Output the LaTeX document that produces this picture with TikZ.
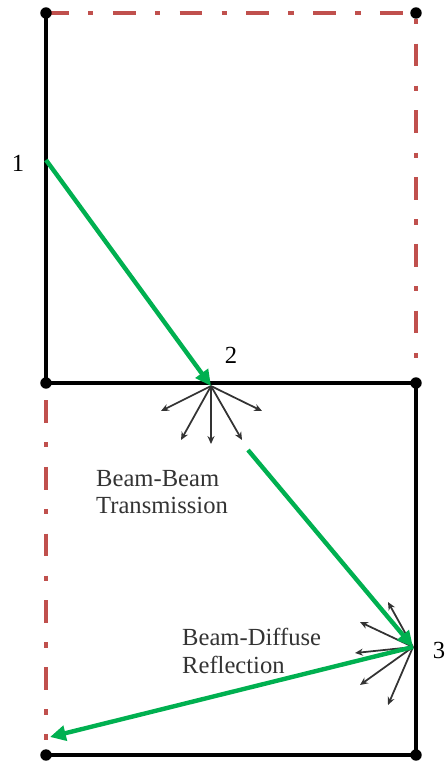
\documentclass[tikz,border=0pt]{standalone}
\usepackage{fontspec}
\setmainfont{Liberation Serif}
\usetikzlibrary{arrows.meta}
\definecolor{bdGreen}{HTML}{00B050}
\definecolor{bdRed}{HTML}{C0504D}
\definecolor{bdInk}{HTML}{333333}
\tikzset{
  bd wall/.style={draw=black, line width=2.7pt},
  bd open/.style={draw=bdRed, line width=2.5pt, dash pattern=on 13pt off 11pt on 3pt off 11pt},
  bd beam/.style={draw=bdGreen, line width=2.5pt, -{Triangle[length=9pt,width=8.5pt]}},
  bd diffuse/.style={draw=bdInk, line width=1pt, -{Stealth[length=4.5pt,width=4pt]}},
  bd corner/.style={circle, fill=black, minimum size=6.5pt, inner sep=0pt},
  bd number/.style={font=\fontsize{14}{16}\selectfont, text=black},
  bd label/.style={font=\fontsize{14}{15.5}\selectfont, text=bdInk, align=left},
}

\begin{document}
\begin{tikzpicture}[x=0.02cm,y=-0.02cm]
  \useasboundingbox (0,0) rectangle (445,763);
  % corners of the two cells
  \coordinate (tl) at (46,13);
  \coordinate (tr) at (416,13);
  \coordinate (ml) at (46,383);
  \coordinate (mr) at (416,383);
  \coordinate (bl) at (46,755);
  \coordinate (br) at (416,755);
  % open sides
  \draw[bd open] (tl) -- (tr) -- (416,365);
  \draw[bd open] (46,400) -- (46,740);
  % walls
  \draw[bd wall] (tl) -- (ml) -- (mr) -- (br) -- (bl);
  \foreach \c in {tl,tr,ml,mr,bl,br}
    \node[bd corner] at (\c) {};
  % beam points
  \coordinate (p1) at (46,160);
  \coordinate (p2) at (211,386);
  \coordinate (p3) at (413,647);
  \coordinate (q2) at (248,450);
  \coordinate (q3) at (50,737);
  \node[bd number] (n1) at (18,163) {1};
  \node[bd number] (n2) at (231,355) {2};
  \node[bd number] (n3) at (439,650) {3};
  % diffuse spread at 2 and 3
  \foreach \dx/\dy in {-50/25,-30/54,0/58,31/54,51/25}
    \draw[bd diffuse] (p2) -- +(\dx,\dy);
  \foreach \dx/\dy in {-25/-45,-53/-25,-58/6,-53/38,-25/58}
    \draw[bd diffuse] (p3) -- +(\dx,\dy);
  % beam path
  \draw[bd beam] (p1) -- (p2);
  \draw[bd beam] (q2) -- (p3);
  \draw[bd beam] (p3) -- (q3);
  \node[bd label, anchor=west] (trans) at (90,492) {Beam-Beam\\Transmission};
  \node[bd label, anchor=west] (refl) at (176,651) {Beam-Diffuse\\Reflection};
\end{tikzpicture}
\end{document}
